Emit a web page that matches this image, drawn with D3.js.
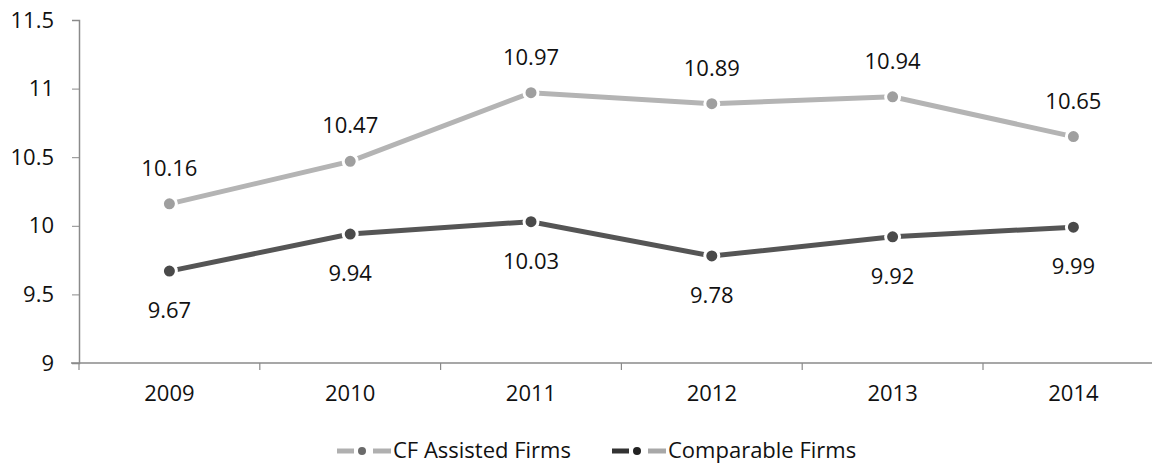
<!DOCTYPE html>
<html>
<head>
<meta charset="utf-8">
<script src="https://cdn.jsdelivr.net/npm/d3@7"></script>
<style>
    body { margin: 0; background: #fff; }
    svg { display: block; font-family: "Open Sans", sans-serif; }
</style>
</head>
<body>
<div id="chart"></div>
<script>
// Chart data
var Years = ["2009", "2010", "2011", "2012", "2013", "2014"];
var AssistedValues = [10.16, 10.47, 10.97, 10.89, 10.94, 10.65];
var ComparableValues = [9.67, 9.94, 10.03, 9.78, 9.92, 9.99];
var YTicks = [9, 9.5, 10, 10.5, 11, 11.5];
var SeriesNames = ["CF Assisted Firms", "Comparable Firms"];

// Layout
var Width = 1152, Height = 463;
var Margin = { Top: 20, Left: 79 };
var SVG = d3.select("#chart").append("svg")
    .attr("width", Width)
    .attr("height", Height);

// Scales
var X = d3.scaleBand().domain(Years).range([Margin.Left, Margin.Left + 6 * 180.8]);
var Y = d3.scaleLinear().domain([9, 11.5]).range([363, Margin.Top]);

// Y axis
var YAxis = SVG.append("g")
    .attr("transform", `translate(${Margin.Left},0)`)
    .call(d3.axisLeft(Y).tickValues(YTicks).tickSize(7).tickPadding(18).tickFormat(d3.format("")));
YAxis.select(".domain").attr("stroke", "#8a8a8a").attr("stroke-width", 1.5);
YAxis.selectAll(".tick line").attr("stroke", "#8a8a8a");
YAxis.selectAll("text").attr("font-size", "22px").attr("fill", "#111").attr("font-family", "Open Sans");

// X axis
var XAxis = SVG.append("g")
    .attr("transform", `translate(0,${Y(9)})`)
    .call(d3.axisBottom(X).tickSize(0).tickPadding(22));
XAxis.select(".domain").attr("d", `M${Margin.Left - 8},0H${Width}`).attr("stroke", "#8a8a8a").attr("stroke-width", 1.5);
XAxis.selectAll("text").attr("font-size", "22px").attr("fill", "#111").attr("font-family", "Open Sans");
// Boundary ticks between categories
XAxis.selectAll(".boundary")
    .data(d3.range(0, 7))
    .enter()
    .append("line")
        .attr("x1", (I) => Margin.Left + I * X.bandwidth())
        .attr("x2", (I) => Margin.Left + I * X.bandwidth())
        .attr("y1", 0)
        .attr("y2", 7)
        .attr("stroke", "#8a8a8a")
        .attr("stroke-width", 1.2);

// Series
var Series = [
    { Name: SeriesNames[0], Values: AssistedValues, Line: "#b4b4b4", Marker: "#9f9f9f", LabelOffset: -28 },
    { Name: SeriesNames[1], Values: ComparableValues, Line: "#555555", Marker: "#4a4a4a", LabelOffset: 47 }
];
var Line = d3.line()
    .x((D, I) => X(Years[I]) + X.bandwidth() / 2)
    .y((D) => Y(D));
Series.forEach(S => {
    SVG.append("path")
        .attr("d", Line(S.Values))
        .attr("fill", "none")
        .attr("stroke", S.Line)
        .attr("stroke-width", 5);
    SVG.selectAll(null)
        .data(S.Values)
        .enter()
        .append("circle")
            .attr("cx", (D, I) => X(Years[I]) + X.bandwidth() / 2)
            .attr("cy", (D) => Y(D))
            .attr("r", 7)
            .attr("fill", S.Marker)
            .attr("stroke", "#fff")
            .attr("stroke-width", 3);
    SVG.selectAll(null)
        .data(S.Values)
        .enter()
        .append("text")
            .attr("x", (D, I) => X(Years[I]) + X.bandwidth() / 2)
            .attr("y", (D) => Y(D) + S.LabelOffset)
            .attr("text-anchor", "middle")
            .attr("font-size", "22px")
            .attr("fill", "#111")
            .text((D) => d3.format(".2f")(D));
});

// Legend (dash, dot, dash, then the name)
var LegendItems = [
    { Name: SeriesNames[0], X: 337, Left: "#b0b0b0", Dot: "#6a6a6a", Right: "#b0b0b0" },
    { Name: SeriesNames[1], X: 612, Left: "#333", Dot: "#222", Right: "#a8a8a8" }
];
var Legend = SVG.append("g").attr("transform", "translate(0,451)");
LegendItems.forEach((Item) => {
    var G = Legend.append("g").attr("transform", `translate(${Item.X},0)`);
    G.append("line").attr("x1", 0).attr("x2", 17).attr("stroke", Item.Left).attr("stroke-width", 5);
    G.append("circle").attr("cx", 25).attr("r", 4).attr("fill", Item.Dot);
    G.append("line").attr("x1", 36).attr("x2", 54).attr("stroke", Item.Right).attr("stroke-width", 5);
    G.append("text")
        .attr("x", 56)
        .attr("y", 7)
        .attr("font-size", "22px")
        .attr("fill", "#111")
        .text(Item.Name);
});
</script>
</body>
</html>
